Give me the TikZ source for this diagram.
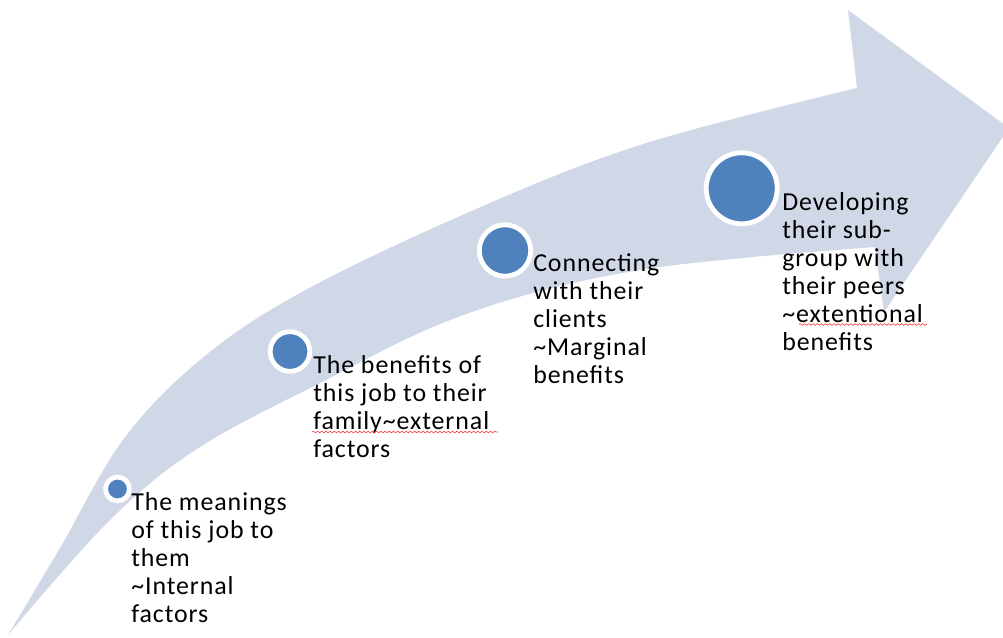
\documentclass[tikz,border=0pt]{standalone}
\usepackage{fontspec}
\setmainfont{Carlito}[LetterSpace=3.6]
\usetikzlibrary{decorations.pathmorphing}
\definecolor{bandfill}{HTML}{D0D8E8}
\definecolor{dotfill}{HTML}{4F81BD}

\begin{document}
\begin{tikzpicture}[x=0.025cm, y=-0.025cm,
  dot/.style={circle, fill=dotfill, draw=white, line width=3.4pt, inner sep=0pt},
  % multi-line texts: the base anchor sits on the last line
  blurb/.style={anchor=base west, align=left, inner sep=0pt,
    font=\fontsize{18.4}{19.85}\selectfont},
  typo/.style={draw=red!75, line width=0.45pt, decorate,
    decoration={snake, amplitude=0.6pt, segment length=3pt}}]
\useasboundingbox (0,0) rectangle (1003,637);

% curved block arrow
\fill[bandfill]
  plot[smooth, tension=0.6] coordinates {(8,635) (60,548) (123,440) (200,360)
      (300,293) (467,213) (640,145) (857,88)}
  -- (848,10) -- (1009,128) -- (884,312) -- (875,247)
  -- plot[smooth, tension=0.6] coordinates {(875,247) (753,257) (640,270)
      (533,293) (433,327) (330,378) (200,447) (110,520) (8,635)}
  -- cycle;

% stage markers
\node[dot, minimum size=0.595cm] (c1) at (117.5,489) {};
\node[dot, minimum size=0.99cm]  (c2) at (290,351.5) {};
\node[dot, minimum size=1.285cm] (c3) at (505,250.5) {};
\node[dot, minimum size=1.775cm] (c4) at (741.7,188.3) {};

% stage texts
\node[blurb] (t1) at (131,622.5) {The meanings\\of this job to\\them\\\textasciitilde Internal\\factors};
\node[blurb] (t2) at (313,457) {The benefits of\\this job to their\\family\textasciitilde external\\factors};
\node[blurb] (t3) at (533,383.3) {Connecting\\with their\\clients\\\textasciitilde Marginal\\benefits};
\node[blurb] (t4) at (782,350) {Developing\\their sub-\\group with\\their peers\\\textasciitilde extentional\\benefits};

% spelling marks
\draw[typo] (312,432) -- (498,432);
\draw[typo] (799,324.5) -- (927,324.5);
\end{tikzpicture}
\end{document}
